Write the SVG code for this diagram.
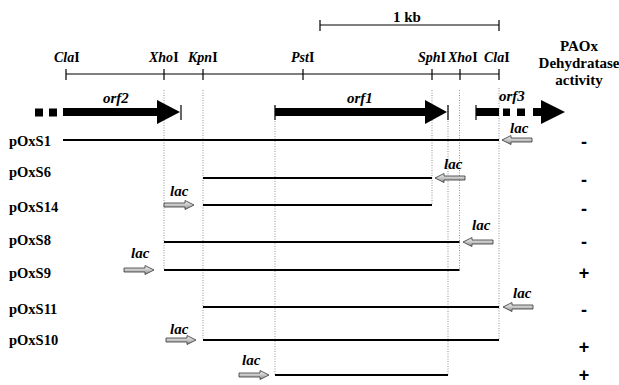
<svg xmlns="http://www.w3.org/2000/svg" width="619" height="385" viewBox="0 0 619 385">
<style>
.t{font-family:"Liberation Serif","Times New Roman",serif;font-weight:bold;fill:#000}
.i{font-style:italic}
.lab{font-size:14.5px}
.site{font-size:14px}
.lac{font-size:15px;font-style:italic}
.hdr{font-size:15px;text-anchor:middle}
.sign{font-family:"Liberation Sans",Arial,sans-serif;font-weight:bold;font-size:18px;text-anchor:middle}
.ln{stroke:#000;stroke-width:1.8;fill:none}
.thin{stroke:#000;stroke-width:1.2;fill:none}
.dot{stroke:#777;stroke-width:0.8;stroke-dasharray:1 1.5;fill:none}
.lacA{fill:url(#g);stroke:#333;stroke-width:0.8}
</style>
<defs>
<linearGradient id="g" x1="0" y1="0" x2="0" y2="1">
<stop offset="0" stop-color="#f4f4f4"/>
<stop offset="0.5" stop-color="#c8c8c8"/>
<stop offset="1" stop-color="#8a8a8a"/>
</linearGradient>
<path id="lacR" class="lacA" d="M0,-2 H21 V-4.5 L30,0 L21,4.5 V2 H0 Z"/>
<path id="lacL" class="lacA" d="M30,-2 H9 V-4.5 L0,0 L9,4.5 V2 H30 Z"/>
</defs>
<rect width="619" height="385" fill="#fff"/>

<g id="scale">
<line class="thin" x1="320" y1="25" x2="499" y2="25"/>
<line class="thin" x1="320" y1="20" x2="320" y2="31"/>
<line class="thin" x1="499" y1="20" x2="499" y2="31"/>
<text class="t" x="407" y="22" font-size="15" text-anchor="middle">1 kb</text>
</g>

<g id="map">
<line class="thin" x1="66" y1="74" x2="499" y2="74"/>
<path class="thin" d="M66,69V80M164,69V80M203,69V80M303,69V80M432,69V80M460,69V80M499,69V80"/>
<text class="t site" x="54" y="62"><tspan class="i">Cla</tspan>I</text>
<text class="t site" x="149" y="62"><tspan class="i">Xho</tspan>I</text>
<text class="t site" x="188" y="62"><tspan class="i">Kpn</tspan>I</text>
<text class="t site" x="291" y="62"><tspan class="i">Pst</tspan>I</text>
<text class="t site" x="418" y="62"><tspan class="i">Sph</tspan>I</text>
<text class="t site" x="448" y="62"><tspan class="i">Xho</tspan>I</text>
<text class="t site" x="484" y="62"><tspan class="i">Cla</tspan>I</text>
</g>

<g id="header">
<text class="t hdr" x="579" y="51">PAOx</text>
<text class="t hdr" x="579" y="68">Dehydratase</text>
<text class="t hdr" x="579" y="85">activity</text>
</g>

<g id="connectors">
<line class="dot" x1="164" y1="90" x2="164" y2="270"/>
<line class="dot" x1="203" y1="90" x2="203" y2="340"/>
<line class="dot" x1="275" y1="106" x2="275" y2="375"/>
<line class="dot" x1="432" y1="90" x2="432" y2="205"/>
<line class="dot" x1="448" y1="106" x2="448" y2="375"/>
<line class="dot" x1="459.5" y1="90" x2="459.5" y2="270"/>
<line class="dot" x1="499" y1="88" x2="499" y2="340"/>
</g>

<g id="orf2">
<rect x="35" y="108.5" width="8" height="8"/>
<rect x="49" y="108.5" width="8" height="8"/>
<rect x="63" y="108" width="95" height="8"/>
<polygon points="157,100 180,112 157,124"/>
<line class="thin" x1="181" y1="105" x2="181" y2="120"/>
<text class="t i" x="103" y="103" font-size="15">orf2</text>
</g>

<g id="orf1">
<line class="thin" x1="275" y1="105" x2="275" y2="120"/>
<rect x="275" y="108" width="151" height="8"/>
<polygon points="425,100 447,112 425,124"/>
<line class="thin" x1="448" y1="105" x2="448" y2="120"/>
<text class="t i" x="347" y="103" font-size="15">orf1</text>
</g>

<g id="orf3">
<line class="thin" x1="476" y1="105" x2="476" y2="120"/>
<rect x="476" y="108" width="23" height="8"/>
<rect x="503" y="108.5" width="7" height="7.5"/>
<rect x="517" y="108.5" width="8" height="7.5"/>
<rect x="533" y="108" width="9" height="8"/>
<polygon points="541,100 565,112 541,124"/>
<text class="t i" x="499" y="101" font-size="15">orf3</text>
</g>

<g id="pOxS1">
<text class="t lab" x="9" y="146">pOxS1</text>
<line class="ln" x1="63" y1="140" x2="499" y2="140"/>
<use href="#lacL" x="502" y="140"/>
<text class="t lac" x="510" y="133">lac</text>
<text class="sign" x="584" y="148">-</text>
</g>

<g id="pOxS6">
<text class="t lab" x="9" y="177">pOxS6</text>
<line class="ln" x1="203" y1="178" x2="432" y2="178"/>
<use href="#lacL" x="435" y="178"/>
<text class="t lac" x="444" y="169">lac</text>
<text class="sign" x="584" y="186">-</text>
</g>

<g id="pOxS14">
<text class="t lab" x="9" y="212">pOxS14</text>
<line class="ln" x1="203" y1="205" x2="432" y2="205"/>
<use href="#lacR" x="164" y="205"/>
<text class="t lac" x="170" y="196">lac</text>
<text class="sign" x="584" y="215">-</text>
</g>

<g id="pOxS8">
<text class="t lab" x="9" y="245">pOxS8</text>
<line class="ln" x1="164" y1="242" x2="459.5" y2="242"/>
<use href="#lacL" x="463" y="242"/>
<text class="t lac" x="472" y="230">lac</text>
<text class="sign" x="584" y="248">-</text>
</g>

<g id="pOxS9">
<text class="t lab" x="9" y="278">pOxS9</text>
<line class="ln" x1="164" y1="270" x2="459.5" y2="270"/>
<use href="#lacR" x="124" y="270"/>
<text class="t lac" x="131" y="258">lac</text>
<text class="sign" x="584" y="279">+</text>
</g>

<g id="pOxS11">
<text class="t lab" x="9" y="314">pOxS11</text>
<line class="ln" x1="203" y1="307" x2="499" y2="307"/>
<use href="#lacL" x="503" y="307"/>
<text class="t lac" x="513" y="298">lac</text>
<text class="sign" x="584" y="316">-</text>
</g>

<g id="pOxS10">
<text class="t lab" x="9" y="345">pOxS10</text>
<line class="ln" x1="203" y1="340" x2="499" y2="340"/>
<use href="#lacR" x="166" y="340"/>
<text class="t lac" x="170" y="334">lac</text>
<text class="sign" x="584" y="353">+</text>
</g>

<g id="row8">
<line class="ln" x1="275" y1="375" x2="448" y2="375"/>
<use href="#lacR" x="239" y="375"/>
<text class="t lac" x="242" y="365">lac</text>
<text class="sign" x="584" y="381">+</text>
</g>
</svg>
